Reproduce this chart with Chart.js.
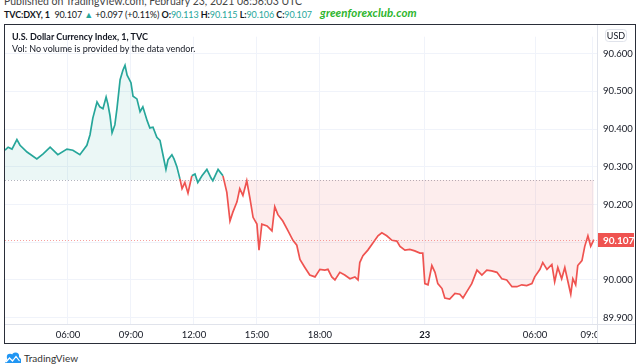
<!DOCTYPE html>
<html>
<head>
<meta charset="utf-8">
<script src="https://cdn.jsdelivr.net/npm/chart.js@4/dist/chart.umd.min.js"></script>
<style>
  body { margin: 0; width: 640px; height: 364px; position: relative; overflow: hidden; background: #fff;
         font-family: "Lato", sans-serif; color: #131722; }
  #pub { position: absolute; left: 4px; top: -5px; font-size: 10.5px; color: #444; white-space: nowrap; }
  #sym { position: absolute; left: 4px; top: 9px; font-size: 9px; letter-spacing: -0.1px; white-space: nowrap; }
  #sym .g { color: #26a69a; }
  #sym b { font-weight: bold; }
  #gfc { position: absolute; left: 320px; top: 6px; font-size: 11.5px; font-style: italic; font-weight: bold;
         color: #2db52d; letter-spacing: 0.1px; }
  #frame { position: absolute; left: 4px; top: 24px; width: 630px; height: 318px; border: 1px solid #2a2e39; }
  #frame canvas { position: absolute; left: 0; top: 0; }
  #legend { position: absolute; left: 7px; top: 6px; font-size: 9px; line-height: 12px; pointer-events: none; }
  #legend b { font-weight: bold; }
  #brand { position: absolute; left: 4px; top: 352px; font-size: 10px; color: #333; display: flex; align-items: center; gap: 2px; }
</style>
</head>
<body>
<div id="pub">Published on TradingView.com, February 23, 2021 08:56:03 UTC</div>
<div id="sym"><b>TVC:DXY, 1</b>&nbsp; 90.107 <span class="g">▲</span> +0.097 (+0.11%) <b>O:</b><span class="g">90.113</span> <b>H:</b><span class="g">90.115</span> <b>L:</b><span class="g">90.106</span> <b>C:</b><span class="g">90.107</span></div>
<div id="gfc">greenforexclub.com</div>
<div id="frame">
  <canvas id="chart" width="630" height="318"></canvas>
  <div id="legend"><b>U.S. Dollar Currency Index, 1, TVC</b><br>Vol: No volume is provided by the data vendor.</div>
</div>
<div id="brand">
  <svg width="18" height="12" viewBox="0 0 18 12"><path d="M1 11 L5 5 L8 8 L12 2 L17 7 L17 11 Z" fill="#2196f3"/><circle cx="6" cy="5" r="3.2" fill="#2196f3"/><circle cx="11.5" cy="4" r="3.6" fill="#2196f3"/><path d="M2 10 L5.5 6 L8.5 9 L12 4.5 L15.5 9" stroke="#fff" stroke-width="1.2" fill="none"/></svg>
  <span>TradingView</span>
</div>
<script>
// 1-minute bar index (gaps in the night make spacing uneven in clock time)
const bars = [0, 9, 20, 34, 43, 63, 91, 109, 129, 151, 177, 194, 214, 234, 243, 251, 263, 271, 280, 289,
  294, 300, 306, 314, 320, 329, 337, 343, 349, 360, 366, 377, 386, 394, 406, 414, 423, 434, 443, 451,
  460, 466, 477, 483, 491, 500, 506, 514, 523, 534, 543, 551, 563, 577, 589, 594, 609, 623, 634, 643,
  651, 663, 671, 680, 691, 700, 709, 720, 726, 734, 749, 763, 771, 780, 794, 809, 823, 834, 843, 857,
  871, 886, 900, 914, 923, 934, 943, 957, 971, 986, 1000, 1009, 1014, 1023, 1037, 1051, 1066, 1077, 1091, 1106,
  1120, 1129, 1143, 1157, 1171, 1186, 1194, 1200, 1209, 1220, 1229, 1237, 1249, 1257, 1271, 1286, 1300, 1309, 1320, 1334,
  1349, 1363, 1377, 1391, 1406, 1420, 1434, 1449, 1463, 1477, 1491, 1506, 1514, 1529, 1537, 1549, 1563, 1571, 1580, 1591,
  1600, 1609, 1617, 1623, 1631, 1637, 1649, 1657, 1666, 1674, 1683];
const closes = [90.344, 90.352, 90.347, 90.372, 90.357, 90.339, 90.321, 90.334, 90.352, 90.332, 90.347, 90.344, 90.332, 90.357, 90.385, 90.429, 90.472, 90.459, 90.454, 90.485,
  90.467, 90.436, 90.390, 90.411, 90.454, 90.531, 90.556, 90.569, 90.543, 90.523, 90.487, 90.480, 90.446, 90.459, 90.423, 90.403, 90.405, 90.378, 90.370, 90.334,
  90.293, 90.319, 90.332, 90.321, 90.301, 90.268, 90.242, 90.258, 90.230, 90.276, 90.281, 90.258, 90.276, 90.293, 90.270, 90.263, 90.293, 90.276, 90.232, 90.156,
  90.179, 90.207, 90.242, 90.224, 90.263, 90.217, 90.166, 90.148, 90.079, 90.148, 90.143, 90.130, 90.194, 90.173, 90.156, 90.130, 90.105, 90.092, 90.054, 90.033,
  90.013, 90.008, 90.028, 90.026, 90.028, 90.008, 90.000, 90.020, 90.013, 90.003, 90.008, 90.000, 90.046, 90.064, 90.079, 90.097, 90.117, 90.125, 90.117, 90.105,
  90.103, 90.089, 90.079, 90.081, 90.077, 90.071, 90.071, 89.990, 89.987, 90.038, 90.020, 89.990, 89.977, 89.952, 89.949, 89.964, 89.962, 89.952, 89.969, 89.990,
  90.026, 90.013, 90.026, 90.024, 90.020, 90.003, 90.000, 89.982, 89.982, 89.987, 89.985, 89.990, 90.008, 90.028, 90.046, 90.028, 90.041, 89.995, 90.033, 90.003,
  90.033, 89.995, 89.962, 90.003, 89.987, 90.038, 90.051, 90.089, 90.117, 90.089, 90.107];
const baseline = 90.265;
const lastPrice = 90.107;
const xTickBars = [180, 360, 540, 720, 900, 1200, 1515, 1680];
const xTickLabels = ['06:00', '09:00', '12:00', '15:00', '18:00', '23', '06:00', '09:00'];
const yTicks = [89.9, 90.0, 90.1, 90.2, 90.3, 90.4, 90.5, 90.6];

const UP = '#26a69a', DOWN = '#ef5350';
const FONT = '"Lato", sans-serif';

const overlay = {
  id: 'overlay',
  beforeDatasetsDraw(chart) {
    const { ctx, chartArea: a, scales: { x, y } } = chart;
    ctx.save();
    ctx.lineWidth = 1;
    ctx.setLineDash([1, 2]);
    let yb = Math.round(y.getPixelForValue(baseline)) + 0.5;
    ctx.strokeStyle = '#b2b5be';
    ctx.beginPath(); ctx.moveTo(x.getPixelForValue(bars[0]), yb); ctx.lineTo(x.getPixelForValue(bars[bars.length - 1]), yb); ctx.stroke();
    let yl = Math.round(y.getPixelForValue(lastPrice)) + 0.5;
    ctx.strokeStyle = 'rgba(239,83,80,0.55)';
    ctx.beginPath(); ctx.moveTo(a.left, yl); ctx.lineTo(a.right, yl); ctx.stroke();
    ctx.restore();
  },
  afterDraw(chart) {
    const { ctx, chartArea: a, scales: { y }, width, height } = chart;
    ctx.save();
    // price scale corner (clips the last time label)
    ctx.fillStyle = '#fff';
    ctx.fillRect(a.right + 1, a.bottom + 1, width - a.right, height - a.bottom);
    ctx.strokeStyle = '#e0e3eb';
    ctx.lineWidth = 1;
    ctx.beginPath();
    ctx.moveTo(a.right + 0.5, 0); ctx.lineTo(a.right + 0.5, height);
    ctx.moveTo(0, a.bottom + 0.5); ctx.lineTo(width, a.bottom + 0.5);
    ctx.stroke();
    // last price tag
    const yl = Math.round(y.getPixelForValue(lastPrice));
    ctx.fillStyle = DOWN;
    ctx.fillRect(a.right + 1, yl - 7, width - a.right - 2, 14);
    ctx.fillStyle = '#fff';
    ctx.font = 'bold 10px ' + FONT;
    ctx.textBaseline = 'middle';
    ctx.fillText(lastPrice.toFixed(3), a.right + 6, yl + 0.5);
    // currency badge
    ctx.fillStyle = '#fff';
    ctx.strokeStyle = '#e0e3eb';
    ctx.beginPath();
    ctx.roundRect(a.right + 8.5, 4.5, 21, 12, 3);
    ctx.fill(); ctx.stroke();
    ctx.fillStyle = '#131722';
    ctx.font = '9px ' + FONT;
    ctx.textAlign = 'center';
    ctx.fillText('USD', a.right + 19, 11);
    ctx.restore();
  }
};

new Chart(document.getElementById('chart'), {
  type: 'line',
  data: {
    datasets: [{
      data: bars.map((b, i) => ({ x: b, y: closes[i] })),
      borderWidth: 1.7,
      pointRadius: 0,
      tension: 0,
      borderColor: DOWN,
      segment: {
        borderColor: c => ((c.p0.parsed.y + c.p1.parsed.y) / 2 >= baseline ? UP : DOWN)
      },
      fill: { target: { value: baseline }, above: 'rgba(38,166,154,0.09)', below: 'rgba(239,83,80,0.10)' }
    }]
  },
  plugins: [overlay],
  options: {
    responsive: false,
    animation: false,
    layout: { padding: 0 },
    plugins: { legend: { display: false }, tooltip: { enabled: false } },
    scales: {
      x: {
        type: 'linear',
        min: 0,
        max: 1692,
        afterBuildTicks: s => { s.ticks = xTickBars.map(v => ({ value: v })); },
        afterFit: s => { s.height = 19; },
        border: { display: false },
        grid: { color: '#f0f3fa', drawTicks: false },
        ticks: {
          autoSkip: false,
          maxRotation: 0,
          padding: 5,
          color: '#131722',
          font: c => ({ family: FONT, size: 9.5, weight: c.tick && c.tick.value === 1200 ? 'bold' : 'normal' }),
          callback: (v, i) => xTickLabels[i]
        }
      },
      y: {
        position: 'right',
        min: 89.883,
        max: 90.645,
        afterBuildTicks: s => { s.ticks = yTicks.map(v => ({ value: v })); },
        afterFit: s => { s.width = 38; },
        border: { display: false },
        grid: { color: '#f0f3fa', drawTicks: false },
        ticks: {
          padding: 6,
          color: '#131722',
          font: { family: FONT, size: 9.5 },
          callback: v => v.toFixed(3)
        }
      }
    }
  }
});
</script>
</body>
</html>
